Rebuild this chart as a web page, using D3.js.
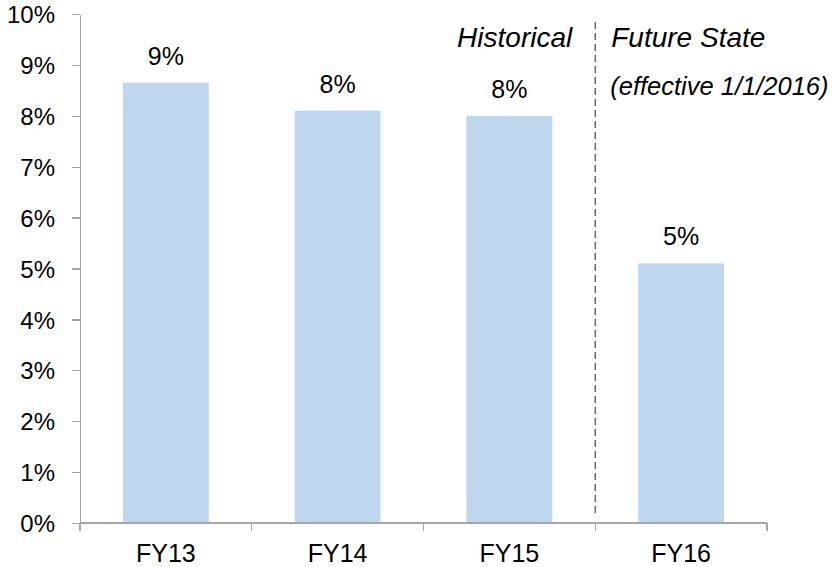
<!DOCTYPE html>
<html>
<head>
<meta charset="utf-8">
<title>FY rate chart</title>
<script src="https://d3js.org/d3.v7.min.js"></script>
<style>
  body { margin: 0; background: #fff; }
  svg text { font-family: "Liberation Sans", Arial, sans-serif; fill: #000; }
  .axis path, .axis line { stroke: #a6a6a6; stroke-width: 1.3px; shape-rendering: crispEdges; }
</style>
</head>
<body>
<script>
// chart data
var categories = ["FY13", "FY14", "FY15", "FY16"];
var values = [0.0865, 0.081, 0.080, 0.051];
var yTicks = [0, 0.01, 0.02, 0.03, 0.04, 0.05, 0.06, 0.07, 0.08, 0.09, 0.10];
var historicalLabel = "Historical";
var futureLabel = "Future State";
var futureNote = "(effective 1/1/2016)";

var W = 837, H = 567;
// plot area edges (note: "top" is reserved on window, so use plot* names)
var plotLeft = 80, plotRight = 767, plotTop = 14, plotBottom = 523;

var svg = d3.select("body").append("svg")
    .attr("width", W)
    .attr("height", H);

var x = d3.scaleBand()
    .domain(categories)
    .range([plotLeft, plotRight])
    .paddingInner(0.5)
    .paddingOuter(0.25);

var y = d3.scaleLinear()
    .domain([0, 0.10])
    .range([plotBottom, plotTop]);

var step = x.step();
// boundaries between categories (where the x ticks go)
var bounds = d3.range(categories.length + 1).map(function(i) { return plotLeft + i * step; });

// bars
svg.selectAll(".bar")
    .data(values)
  .enter().append("rect")
    .attr("class", "bar")
    .attr("x", function(d, i) { return x(categories[i]); })
    .attr("y", function(d) { return y(d); })
    .attr("width", x.bandwidth())
    .attr("height", function(d) { return y(0) - y(d); })
    .attr("fill", "#bdd7ee");

// y axis
var yAxis = svg.append("g")
    .attr("class", "axis")
    .attr("transform", "translate(" + plotLeft + ",0)")
    .call(d3.axisLeft(y).tickValues(yTicks).tickFormat(d3.format(".0%")).tickSize(8).tickSizeOuter(0).tickPadding(17));
yAxis.selectAll("text").style("font-size", "24px").attr("dy", "0.36em");

// x axis: line plus ticks at category boundaries
var xg = svg.append("g").attr("class", "axis");
xg.append("line")
    .attr("x1", plotLeft).attr("x2", plotRight)
    .attr("y1", plotBottom).attr("y2", plotBottom);
xg.selectAll(".xt")
    .data(bounds)
  .enter().append("line")
    .attr("class", "xt")
    .attr("x1", function(d) { return d; }).attr("x2", function(d) { return d; })
    .attr("y1", plotBottom).attr("y2", plotBottom + 8);

svg.selectAll(".xlab")
    .data(categories)
  .enter().append("text")
    .attr("class", "xlab")
    .attr("x", function(d) { return x(d) + x.bandwidth() / 2; })
    .attr("y", plotBottom + 39)
    .attr("text-anchor", "middle")
    .style("font-size", "25px")
    .text(function(d) { return d; });

// value labels
svg.selectAll(".vlab")
    .data(values)
  .enter().append("text")
    .attr("class", "vlab")
    .attr("x", function(d, i) { return x(categories[i]) + x.bandwidth() / 2; })
    .attr("y", function(d) { return y(d) - 18; })
    .attr("text-anchor", "middle")
    .style("font-size", "25px")
    .text(function(d) { return d3.format(".0%")(d); });

// divider between historical and future
var divX = bounds[3];
svg.append("line")
    .attr("x1", divX).attr("x2", divX)
    .attr("y1", 22).attr("y2", 516)
    .attr("stroke", "#6b6b6b")
    .attr("stroke-width", 1.5)
    .attr("stroke-dasharray", "7,4");

svg.append("text")
    .attr("x", divX - 23)
    .attr("y", 47)
    .attr("text-anchor", "end")
    .style("font-size", "28px")
    .style("font-style", "italic")
    .text(historicalLabel);

svg.append("text")
    .attr("x", divX + 16)
    .attr("y", 47)
    .style("font-size", "28px")
    .style("font-style", "italic")
    .text(futureLabel);

svg.append("text")
    .attr("x", divX + 15)
    .attr("y", 95)
    .style("font-size", "25.5px")
    .style("font-style", "italic")
    .text(futureNote);
</script>
</body>
</html>
